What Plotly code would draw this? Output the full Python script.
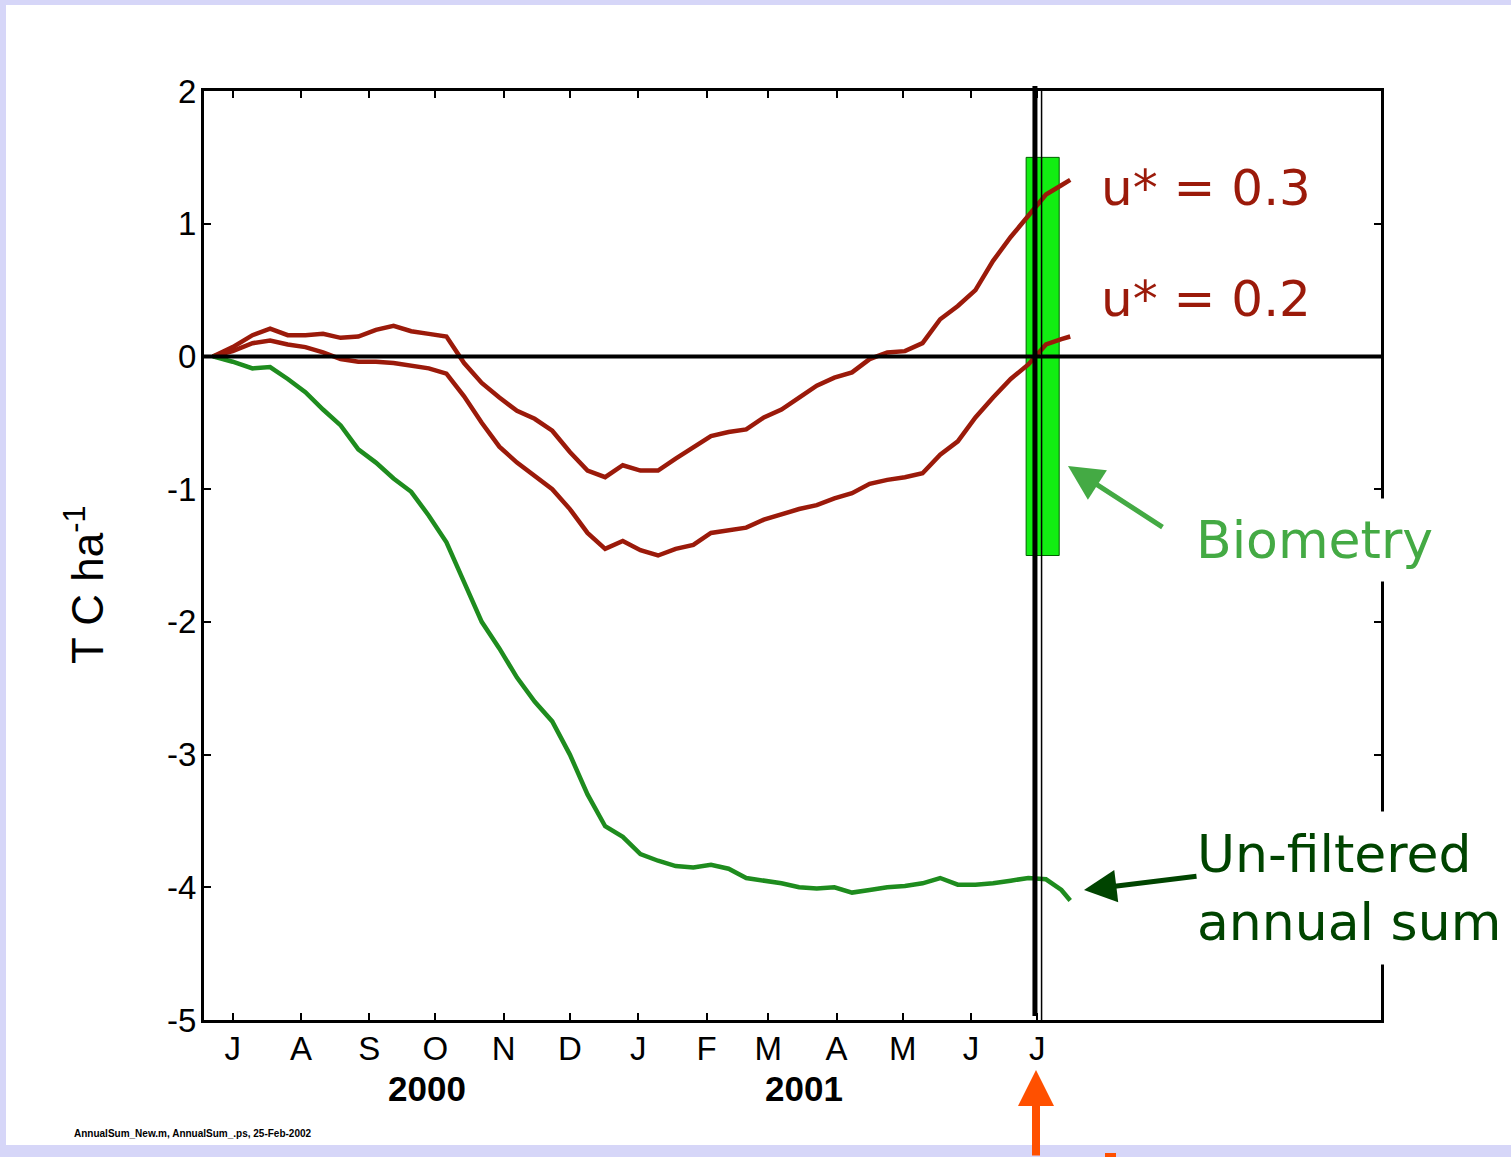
import plotly.graph_objects as go

# ---------------- data ----------------
dates = ["2000-06-22", "2000-07-01", "2000-07-10", "2000-07-18", "2000-07-26",
         "2000-08-03", "2000-08-11", "2000-08-19", "2000-08-27", "2000-09-04",
         "2000-09-12", "2000-09-20", "2000-09-28", "2000-10-06", "2000-10-14",
         "2000-10-22", "2000-10-30", "2000-11-07", "2000-11-15", "2000-11-23",
         "2000-12-01", "2000-12-09", "2000-12-17", "2000-12-25", "2001-01-02",
         "2001-01-10", "2001-01-18", "2001-01-26", "2001-02-03", "2001-02-11",
         "2001-02-19", "2001-02-27", "2001-03-07", "2001-03-15", "2001-03-23",
         "2001-03-31", "2001-04-08", "2001-04-16", "2001-04-24", "2001-05-02",
         "2001-05-10", "2001-05-18", "2001-05-26", "2001-06-03", "2001-06-11",
         "2001-06-19", "2001-06-27", "2001-07-05", "2001-07-12", "2001-07-16"]

u03 = [0.00, 0.07, 0.16, 0.21, 0.16, 0.16, 0.17, 0.14, 0.15, 0.20,
       0.23, 0.19, 0.17, 0.15, -0.05, -0.20, -0.31, -0.41, -0.47, -0.56,
       -0.72, -0.86, -0.91, -0.82, -0.86, -0.86, -0.77, -0.68, -0.60, -0.57,
       -0.55, -0.46, -0.40, -0.31, -0.22, -0.16, -0.12, -0.02, 0.03, 0.04,
       0.10, 0.28, 0.38, 0.50, 0.72, 0.90, 1.06, 1.22, 1.29, 1.33]

u02 = [0.00, 0.04, 0.10, 0.12, 0.09, 0.07, 0.03, -0.02, -0.04, -0.04,
       -0.05, -0.07, -0.09, -0.13, -0.30, -0.50, -0.68, -0.80, -0.90, -1.00,
       -1.15, -1.33, -1.45, -1.39, -1.46, -1.50, -1.45, -1.42, -1.33, -1.31,
       -1.29, -1.23, -1.19, -1.15, -1.12, -1.07, -1.03, -0.96, -0.93, -0.91,
       -0.88, -0.74, -0.64, -0.46, -0.31, -0.17, -0.06, 0.09, 0.13, 0.15]

unfiltered = [0.00, -0.04, -0.09, -0.08, -0.17, -0.27, -0.40, -0.52, -0.70, -0.80,
              -0.92, -1.02, -1.20, -1.40, -1.70, -2.00, -2.20, -2.42, -2.60, -2.75,
              -3.00, -3.30, -3.54, -3.62, -3.75, -3.80, -3.84, -3.85, -3.83, -3.86,
              -3.93, -3.95, -3.97, -4.00, -4.01, -4.00, -4.04, -4.02, -4.00, -3.99,
              -3.97, -3.93, -3.98, -3.98, -3.97, -3.95, -3.93, -3.94, -4.02, -4.10]

month_ticks = ["2000-07-01", "2000-08-01", "2000-09-01", "2000-10-01", "2000-11-01",
               "2000-12-01", "2001-01-01", "2001-02-01", "2001-03-01", "2001-04-01",
               "2001-05-01", "2001-06-01", "2001-07-01"]
month_labels = ["J", "A", "S", "O", "N", "D", "J", "F", "M", "A", "M", "J", "J"]
year_labels = ["2000", "2001"]
year_label_dates = ["2000-09-27", "2001-03-17"]

y_ticks = [-5, -4, -3, -2, -1, 0, 1, 2]
y_labels = ["-5", "-4", "-3", "-2", "-1", "0", "1", "2"]

x_range = ["2000-06-18", "2001-12-04"]
y_range = [-5, 2]

biometry_dates = ["2001-06-26", "2001-07-11"]
biometry_values = [-1.5, 1.5]
marker_date = "2001-06-30"
marker_date_thin = "2001-07-03"

# ---------------- layout helpers ----------------
W, H = 1511, 1157
L, R, T, B = 204, 1381, 91, 1020


def px(xp):
    return (xp - L) / (R - L)


def py(yp):
    return (B - yp) / (B - T)


RED = "#9B1A0A"
GREEN_LINE = "#1E8C1E"
LAVENDER = "#D6D6F8"
AXFONT = dict(family="Liberation Sans, Arial, sans-serif", size=33, color="black")
LBLFONT = "DejaVu Sans, Verdana, sans-serif"

fig = go.Figure()
fig.add_trace(go.Scatter(x=dates, y=u03, mode="lines", name="u* = 0.3",
                         line=dict(color=RED, width=4.5)))
fig.add_trace(go.Scatter(x=dates, y=u02, mode="lines", name="u* = 0.2",
                         line=dict(color=RED, width=4.5)))
fig.add_trace(go.Scatter(x=dates, y=unfiltered, mode="lines", name="Un-filtered",
                         line=dict(color=GREEN_LINE, width=4.5)))

shapes = [
    # white panel
    dict(type="rect", xref="paper", yref="paper", x0=px(6), x1=px(1515),
         y0=py(1145), y1=py(5), fillcolor="white", line=dict(width=0), layer="below"),
    # biometry box
    dict(type="rect", xref="x", yref="y", x0=biometry_dates[0], x1=biometry_dates[1],
         y0=biometry_values[0], y1=biometry_values[1], fillcolor="#12EE12",
         line=dict(color="#006000", width=1), layer="below"),
    # zero line
    dict(type="line", xref="x domain", yref="y", x0=0, x1=1, y0=0, y1=0,
         line=dict(color="black", width=4)),
    # vertical marker lines
    dict(type="line", xref="x", yref="paper", x0=marker_date, x1=marker_date,
         y0=py(1016), y1=py(86), line=dict(color="black", width=5)),
    dict(type="line", xref="x", yref="paper", x0=marker_date_thin, x1=marker_date_thin,
         y0=0, y1=1, line=dict(color="black", width=1.5)),
    # small orange mark at bottom edge
    dict(type="rect", xref="paper", yref="paper", x0=px(1105), x1=px(1116),
         y0=py(1158), y1=py(1153), fillcolor="#FF5000", line=dict(width=0)),
]

annotations = []
# year labels
for lab, d in zip(year_labels, year_label_dates):
    annotations.append(dict(text=lab, x=d, xref="x", y=py(1088), yref="paper",
                            showarrow=False, xanchor="center", yanchor="middle",
                            font=dict(family="Liberation Sans, Arial", size=35,
                                      color="black", weight="bold")))
# y title
annotations.append(dict(text="T C ha<sup>-1</sup>", x=px(84), y=py(585),
                        xref="paper", yref="paper", showarrow=False, textangle=-90,
                        xanchor="center", yanchor="middle",
                        font=dict(family="Liberation Sans, Arial", size=44, color="black")))
# u* labels
annotations.append(dict(text="u* = 0.3", x=px(1099), y=py(188), xref="paper", yref="paper",
                        showarrow=False, xanchor="left", yanchor="middle",
                        font=dict(family=LBLFONT, size=50, color=RED)))
annotations.append(dict(text="u* = 0.2", x=px(1099), y=py(299), xref="paper", yref="paper",
                        showarrow=False, xanchor="left", yanchor="middle",
                        font=dict(family=LBLFONT, size=50, color=RED)))
# Biometry
annotations.append(dict(text="Biometry", x=px(1184), y=py(540), xref="paper", yref="paper",
                        showarrow=False, xanchor="left", yanchor="middle",
                        bgcolor="white", borderpad=11,
                        font=dict(family=LBLFONT, size=52, color="#44AA44")))
annotations.append(dict(text="", x=px(1068), y=py(466), xref="paper", yref="paper",
                        showarrow=True, ax=96, ay=62, axref="pixel", ayref="pixel",
                        arrowhead=2, arrowsize=1.4, arrowwidth=5, arrowcolor="#44AA44"))
# Un-filtered
annotations.append(dict(text="Un-filtered<br>annual sum", x=px(1184), y=py(888),
                        xref="paper", yref="paper", align="left",
                        showarrow=False, xanchor="left", yanchor="middle",
                        bgcolor="white", borderpad=12,
                        font=dict(family=LBLFONT, size=52, color="#004400")))
annotations.append(dict(text="", x=px(1084), y=py(890), xref="paper", yref="paper",
                        showarrow=True, ax=114, ay=-14, axref="pixel", ayref="pixel",
                        arrowhead=2, arrowsize=1.3, arrowwidth=5, arrowcolor="#004400"))
# orange arrow
annotations.append(dict(text="", x=px(1036), y=py(1070), xref="paper", yref="paper",
                        showarrow=True, ax=0, ay=140, axref="pixel", ayref="pixel",
                        arrowhead=2, arrowsize=0.9, arrowwidth=8, arrowcolor="#FF5000"))
# footnote
annotations.append(dict(text="AnnualSum_New.m, AnnualSum_.ps, 25-Feb-2002",
                        x=px(72), y=py(1133), xref="paper", yref="paper",
                        showarrow=False, xanchor="left", yanchor="middle",
                        font=dict(family="Liberation Sans Narrow, Liberation Sans, Arial",
                                  size=10, color="black", weight="bold")))

fig.update_layout(
    width=W, height=H, autosize=False,
    margin=dict(l=L, r=W - R, t=T, b=H - B, pad=0),
    paper_bgcolor=LAVENDER, plot_bgcolor="white",
    showlegend=False,
    shapes=shapes, annotations=annotations,
    xaxis=dict(type="date", range=x_range, tickmode="array", tickvals=month_ticks,
               ticktext=month_labels, ticks="inside", ticklen=7, tickwidth=2,
               tickcolor="black", showline=True, linewidth=3, linecolor="black",
               mirror="ticks", showgrid=False, zeroline=False, tickfont=AXFONT,
               ticklabelstandoff=-3),
    yaxis=dict(range=y_range, tickmode="array", tickvals=y_ticks, ticktext=y_labels,
               ticks="inside", ticklen=7, tickwidth=2, tickcolor="black",
               showline=True, linewidth=3, linecolor="black", mirror="ticks",
               showgrid=False, zeroline=False, tickfont=AXFONT, ticklabelstandoff=-2),
)

fig.write_html("out.html")
